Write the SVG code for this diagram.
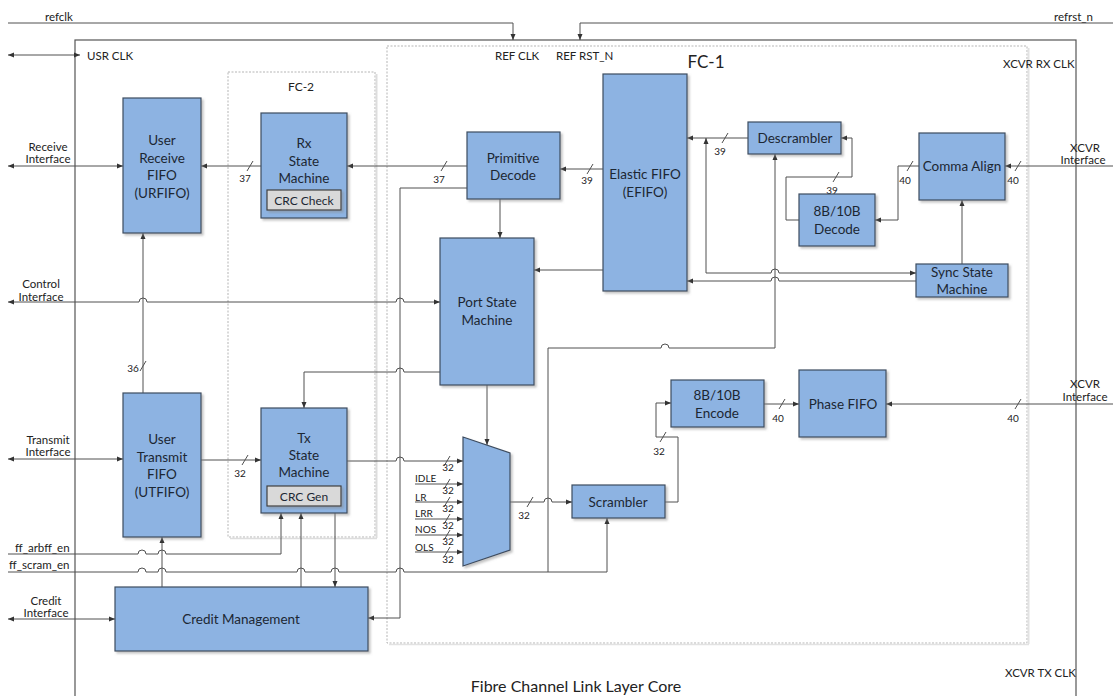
<svg xmlns="http://www.w3.org/2000/svg" width="1115" height="696" viewBox="0 0 1115 696">
<style>
text{font-family:Lato,"Liberation Sans",sans-serif;fill:#222;dominant-baseline:central}
.blk{fill:#8db3e2;stroke:#3d4c60;stroke-width:1.2;filter:url(#sh)}
.sub{fill:#d9d9d9;stroke:#404040;stroke-width:1.2;filter:url(#sh)}
.bt{font-size:13.5px;text-anchor:middle;fill:#1c2733}
.st{font-size:12px;text-anchor:middle;fill:#1c2733}
.lb{font-size:11.5px}
.lc{font-size:11.5px;text-anchor:middle}
.bn{font-size:10px;text-anchor:middle}
.w{fill:none;stroke:#505050;stroke-width:1}
.e{marker-end:url(#ah)}
.s{marker-start:url(#ah)}
.bus{stroke:#505050;stroke-width:1}
.dot{fill:none;stroke:#b5b5b5;stroke-width:1;stroke-dasharray:2 1.5}
</style>
<defs>
<marker id="ah" viewBox="0 0 6 6" refX="6" refY="3" markerWidth="6" markerHeight="6" markerUnits="userSpaceOnUse" orient="auto-start-reverse"><path d="M0,0.5 L6,3 L0,5.5 z" fill="#333"/></marker>
<filter id="sh" x="-10%" y="-10%" width="130%" height="130%"><feDropShadow dx="2" dy="2" stdDeviation="1" flood-color="#888" flood-opacity="0.5"/></filter>
</defs>
<rect width="1115" height="696" fill="#fff"/>

<g id="frames">
<rect x="75" y="40" width="1001" height="670" fill="none" stroke="#555" stroke-width="1.2"/>
<rect x="228" y="72" width="147" height="465" class="dot"/>
<line x1="376.5" y1="74" x2="376.5" y2="538" stroke="#ddd" stroke-width="2"/>
<line x1="230" y1="538.5" x2="377" y2="538.5" stroke="#ddd" stroke-width="1.5"/>
<rect x="387" y="46" width="640" height="597" class="dot"/>
<line x1="1028.5" y1="48" x2="1028.5" y2="644" stroke="#e2e2e2" stroke-width="2"/>
<line x1="389" y1="644.5" x2="1029" y2="644.5" stroke="#e2e2e2" stroke-width="1.5"/>
<text x="301" y="86" class="lc" style="font-size:12px">FC-2</text>
<text x="706" y="61" style="font-size:17px;text-anchor:middle">FC-1</text>
<text x="45" y="16" class="lb">refclk</text>
<text x="1093" y="16" class="lb" style="text-anchor:end">refrst_n</text>
<text x="87" y="55" class="lb">USR CLK</text>
<text x="495" y="55" class="lb">REF CLK</text>
<text x="556" y="55" class="lb">REF RST_N</text>
<text x="1003" y="63" class="lb">XCVR RX CLK</text>
<text x="1005" y="672" class="lb">XCVR TX CLK</text>
<text x="576" y="685" style="font-size:16px;text-anchor:middle">Fibre Channel Link Layer Core</text>
<text x="48" y="146" class="lc">Receive</text><text x="48" y="158" class="lc">Interface</text>
<text x="41" y="283" class="lc">Control</text><text x="41" y="296" class="lc">Interface</text>
<text x="48" y="439" class="lc">Transmit</text><text x="48" y="451" class="lc">Interface</text>
<text x="15" y="547" class="lb">ff_arbff_en</text>
<text x="9" y="564" class="lb">ff_scram_en</text>
<text x="46" y="600" class="lc">Credit</text><text x="46" y="612" class="lc">Interface</text>
<text x="1085" y="147" class="lc">XCVR</text><text x="1083" y="159" class="lc">Interface</text>
<text x="1085" y="383" class="lc">XCVR</text><text x="1085" y="396" class="lc">Interface</text>
</g>

<g id="connectors">
<path class="w e" d="M8,23 H513 V40"/>
<path class="w e" d="M1113,23 H580 V40"/>
<path class="w s e" d="M8,55 H80"/>
<path class="w s e" d="M8,166 H123"/>
<path class="w e" d="M261,166 H201"/>
<path class="w e" d="M467,166 H347"/>
<path class="w e" d="M603,169 H560"/>
<path class="w e" d="M748,138 H687"/>
<path class="w s e" d="M706,138 V273 H771 A4,4 0 0 1 779,273 H916"/>
<path class="w e" d="M916,281 H779 A4,4 0 0 0 771,281 H687"/>
<path class="w e" d="M548,572 V348 H661 A4,4 0 0 1 669,348 H775 V154"/>
<path class="w e" d="M919,166 H898 V220 H875"/>
<path class="w e" d="M799,220 H786 V177 H852 V138 H841"/>
<path class="w e" d="M1113,166 H1005"/>
<path class="w e" d="M962,264 V200"/>
<path class="w e" d="M603,270 H534"/>
<path class="w e" d="M500,199 V238"/>
<path class="w e" d="M467,188 H400 V618 H368"/>
<path class="w s e" d="M8,302 H139 A4,4 0 0 1 147,302 H396 A4,4 0 0 1 404,302 H440"/>
<path class="w e" d="M440,372 H404 A4,4 0 0 0 396,372 H304 V408"/>
<path class="w e" d="M487,385 V445"/>
<path class="w e" d="M143,393 V233"/>
<path class="w s e" d="M8,459 H123"/>
<path class="w e" d="M201,460 H261"/>
<path class="w e" d="M347,461 H396 A4,4 0 0 1 404,461 H463"/>
<path class="w e" d="M415,484 H463"/>
<path class="w e" d="M415,502 H463"/>
<path class="w e" d="M415,519 H463"/>
<path class="w e" d="M415,535 H463"/>
<path class="w e" d="M415,552 H463"/>
<path class="w e" d="M510,502 H544 A4,4 0 0 1 552,502 H572"/>
<path class="w e" d="M665,502 H678 V437 H656 V403 H671"/>
<path class="w e" d="M764,404 H799"/>
<path class="w e" d="M1113,404 H886"/>
<path class="w e" d="M8,554 H138 A4,4 0 0 1 146,554 H158 A4,4 0 0 1 166,554 H281 V513"/>
<path class="w e" d="M8,572 H138 A4,4 0 0 1 146,572 H158 A4,4 0 0 1 166,572 H297 A4,4 0 0 1 305,572 H331 A4,4 0 0 1 339,572 H396 A4,4 0 0 1 404,572 H607 V518"/>
<path class="w e" d="M162,587 V537"/>
<path class="w e" d="M301,587 V513"/>
<path class="w e" d="M335,513 V587"/>
<path class="w s e" d="M8,619 H115"/>
<g class="bus">
<line x1="247" y1="171" x2="253" y2="161"/>
<line x1="441" y1="171" x2="447" y2="161"/>
<line x1="587" y1="174" x2="593" y2="164"/>
<line x1="722" y1="143" x2="728" y2="133"/>
<line x1="833" y1="182" x2="839" y2="172"/>
<line x1="907" y1="171" x2="913" y2="161"/>
<line x1="1015" y1="171" x2="1021" y2="161"/>
<line x1="140" y1="371" x2="146" y2="361"/>
<line x1="242" y1="465" x2="248" y2="455"/>
<line x1="444" y1="466" x2="450" y2="456"/>
<line x1="444" y1="489" x2="450" y2="479"/>
<line x1="444" y1="507" x2="450" y2="497"/>
<line x1="444" y1="524" x2="450" y2="514"/>
<line x1="444" y1="540" x2="450" y2="530"/>
<line x1="444" y1="557" x2="450" y2="547"/>
<line x1="527" y1="507" x2="533" y2="497"/>
<line x1="660" y1="442" x2="666" y2="432"/>
<line x1="779" y1="409" x2="785" y2="399"/>
<line x1="1015" y1="409" x2="1021" y2="399"/>
</g>
<text x="245" y="178" class="bn">37</text>
<text x="439" y="179" class="bn">37</text>
<text x="587" y="180" class="bn">39</text>
<text x="720" y="151" class="bn">39</text>
<text x="832" y="190" class="bn">39</text>
<text x="905" y="180" class="bn">40</text>
<text x="1013" y="180" class="bn">40</text>
<text x="133" y="368" class="bn">36</text>
<text x="240" y="473" class="bn">32</text>
<text x="524" y="515" class="bn">32</text>
<text x="659" y="451" class="bn">32</text>
<text x="778" y="418" class="bn">40</text>
<text x="1013" y="418" class="bn">40</text>
<text x="448" y="467" class="bn">32</text>
<text x="448" y="490" class="bn">32</text>
<text x="448" y="508" class="bn">32</text>
<text x="448" y="525" class="bn">32</text>
<text x="448" y="541" class="bn">32</text>
<text x="448" y="559" class="bn">32</text>
<text x="415" y="478" style="font-size:10px">IDLE</text>
<text x="415" y="497" style="font-size:10px">LR</text>
<text x="415" y="513" style="font-size:10px">LRR</text>
<text x="415" y="529" style="font-size:10px">NOS</text>
<text x="415" y="547" style="font-size:10px">OLS</text>
</g>

<g id="urfifo"><rect class="blk" x="123" y="98" width="78" height="135"/>
<text class="bt" x="162" y="140">User</text><text class="bt" x="162" y="158">Receive</text><text class="bt" x="162" y="175">FIFO</text><text class="bt" x="162" y="193">(URFIFO)</text></g>
<g id="rxsm"><rect class="blk" x="261" y="113" width="86" height="105"/>
<text class="bt" x="304" y="143">Rx</text><text class="bt" x="304" y="161">State</text><text class="bt" x="304" y="178">Machine</text>
<rect class="sub" x="267" y="190" width="74" height="20"/><text class="st" x="304" y="200">CRC Check</text></g>
<g id="primdecode"><rect class="blk" x="467" y="132" width="93" height="67"/>
<text class="bt" x="513" y="158">Primitive</text><text class="bt" x="513" y="175">Decode</text></g>
<g id="efifo"><rect class="blk" x="603" y="74" width="84" height="217"/>
<text class="bt" x="645" y="174">Elastic FIFO</text><text class="bt" x="645" y="192">(EFIFO)</text></g>
<g id="descrambler"><rect class="blk" x="748" y="122" width="93" height="32"/>
<text class="bt" x="795" y="138">Descrambler</text></g>
<g id="commaalign"><rect class="blk" x="919" y="133" width="86" height="67"/>
<text class="bt" x="962" y="166">Comma Align</text></g>
<g id="decode8b10b"><rect class="blk" x="799" y="194" width="76" height="52"/>
<text class="bt" x="837" y="211">8B/10B</text><text class="bt" x="837" y="229">Decode</text></g>
<g id="syncsm"><rect class="blk" x="916" y="264" width="92" height="33"/>
<text class="bt" x="962" y="272">Sync State</text><text class="bt" x="962" y="289">Machine</text></g>
<g id="portsm"><rect class="blk" x="440" y="238" width="94" height="147"/>
<text class="bt" x="487" y="302">Port State</text><text class="bt" x="487" y="320">Machine</text></g>
<g id="encode8b10b"><rect class="blk" x="671" y="380" width="93" height="47"/>
<text class="bt" x="717" y="395">8B/10B</text><text class="bt" x="717" y="413">Encode</text></g>
<g id="phasefifo"><rect class="blk" x="799" y="370" width="87" height="67"/>
<text class="bt" x="843" y="404">Phase FIFO</text></g>
<g id="mux"><path class="blk" d="M463,437 L510,453 L510,550 L463,566 Z"/></g>
<g id="scrambler"><rect class="blk" x="572" y="485" width="93" height="33"/>
<text class="bt" x="618" y="502">Scrambler</text></g>
<g id="utfifo"><rect class="blk" x="123" y="393" width="78" height="144"/>
<text class="bt" x="162" y="439">User</text><text class="bt" x="162" y="457">Transmit</text><text class="bt" x="162" y="474">FIFO</text><text class="bt" x="162" y="492">(UTFIFO)</text></g>
<g id="txsm"><rect class="blk" x="261" y="408" width="86" height="105"/>
<text class="bt" x="304" y="438">Tx</text><text class="bt" x="304" y="455">State</text><text class="bt" x="304" y="472">Machine</text>
<rect class="sub" x="267" y="486" width="74" height="20"/><text class="st" x="304" y="496">CRC Gen</text></g>
<g id="creditmgmt"><rect class="blk" x="115" y="587" width="253" height="64"/>
<text class="bt" x="241" y="619">Credit Management</text></g>
</svg>
